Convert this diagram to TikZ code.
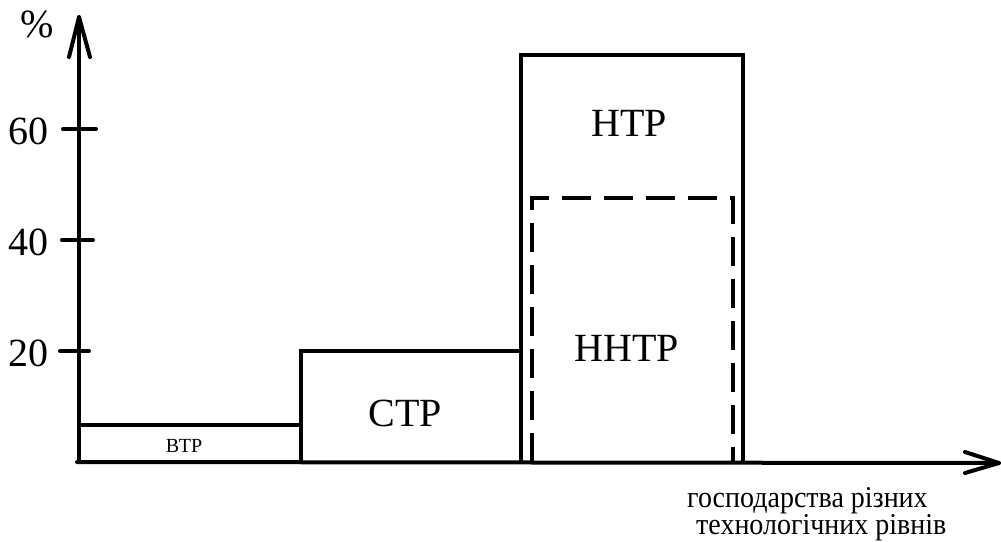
\documentclass[tikz,border=0pt]{standalone}
\usepackage{fontspec}
\setmainfont{Liberation Serif}
\begin{document}
\begin{tikzpicture}[x=1pt,y=-1pt,
  ax/.style={line width=4pt,line cap=round,line join=round},
  bar/.style={line width=4pt,line join=miter},
  dbar/.style={line width=4pt,dash pattern=on 29pt off 13pt},
  big/.style={inner sep=0pt,font=\fontsize{40}{48}\selectfont},
  small/.style={inner sep=0pt,font=\fontsize{20}{24}\selectfont},
  captext/.style={inner sep=0pt,anchor=base west,align=left,yscale=1.08,font=\fontsize{28}{25}\selectfont}]
\useasboundingbox (0,0) rectangle (1001,541);
% axes
\coordinate (O) at (79,462);
\coordinate (ytip) at (79,17);
\coordinate (xtip) at (999,463);
\coordinate (x0) at (77,462);
\draw[ax] (O) -- (ytip);
\draw[ax] (69,57) -- (ytip) -- (90,57);
\draw[ax] (x0) -- (xtip);
\draw[ax] (965,452) -- (xtip) -- (965,473);
% ticks
\draw[ax] (63,129) -- (96,129);
\draw[ax] (62,240) -- (93,240);
\draw[ax] (60,351) -- (89,351);
\node[big] (l60) at (29,131) {60};
\node[big] (l40) at (29,242) {40};
\node[big] (l20) at (29,353) {20};
\node[big] (pct) at (37,24) {\%};
% bars
\draw[bar] (79,425) -- (301,425);
\draw[bar] (301,462) -- (301,351) -- (521,351);
\draw[bar] (521,462) -- (521,55) -- (743,55) -- (743,462);
\draw[dbar] (532,462) -- (532,198) -- (733,198) -- (733,462);
\node[small] (btp) at (184,446) {ВТР};
\node[big] (ctp) at (405,413) {СТР};
\node[big] (htp) at (629,123) {НТР};
\node[big] (hhtp) at (627,348) {ННТР};
\node[captext] (xl) at (687,534) {господарства різних\\\hspace*{9pt}технологічних рівнів};
\end{tikzpicture}
\end{document}
